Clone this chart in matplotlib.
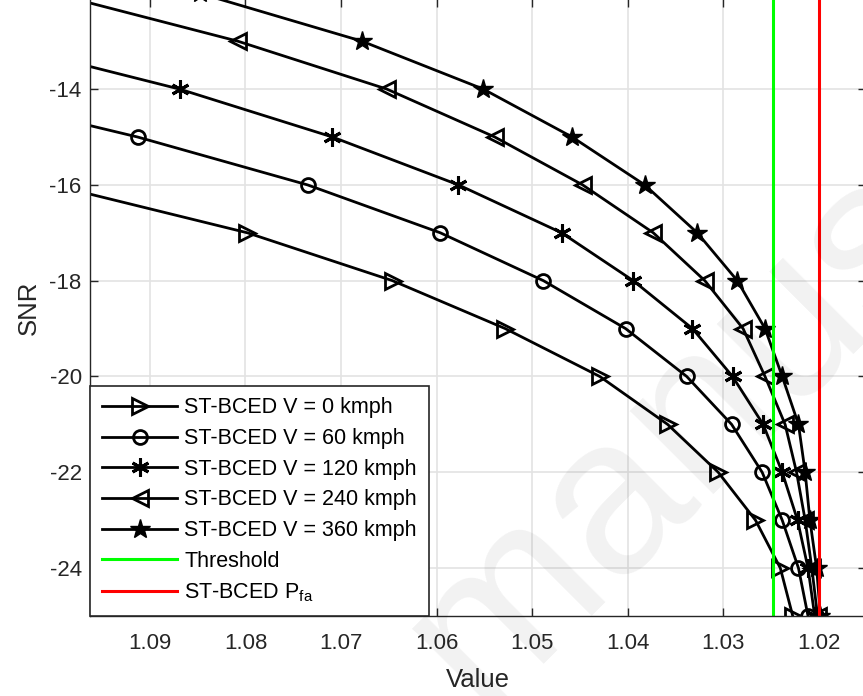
import numpy as np
import matplotlib
matplotlib.use("Agg")
import matplotlib.pyplot as plt

plt.rcParams['font.family'] = ['Liberation Sans', 'DejaVu Sans']
plt.rcParams['axes.unicode_minus'] = False

# SNR levels for each curve and the matching values
snr_v0 = [-16, -17, -18, -19, -20, -21, -22, -23, -24, -25]
val_v0 = [1.1002, 1.0798, 1.0646, 1.0528, 1.0429, 1.0358, 1.0305, 1.0266, 1.0240, 1.0227]

snr_v60 = [-14, -15, -16, -17, -18, -19, -20, -21, -22, -23, -24, -25]
val_v60 = [1.1122, 1.0913, 1.0735, 1.0596, 1.0488, 1.0402, 1.0338, 1.0291, 1.0259, 1.0238, 1.0221, 1.0211]

snr_v120 = [-13, -14, -15, -16, -17, -18, -19, -20, -21, -22, -23, -24, -25]
val_v120 = [1.1068, 1.0869, 1.0709, 1.0577, 1.0469, 1.0394, 1.0332, 1.0290, 1.0258, 1.0238, 1.0222, 1.0211, 1.0204]

snr_v240 = [-12, -13, -14, -15, -16, -17, -18, -19, -20, -21, -22, -23, -24, -25]
val_v240 = [1.1002, 1.0808, 1.0652, 1.0539, 1.0447, 1.0373, 1.0319, 1.0279, 1.0256, 1.0235, 1.0223, 1.0214, 1.0207, 1.0201]

snr_v360 = [-12, -13, -14, -15, -16, -17, -18, -19, -20, -21, -22, -23, -24, -25]
val_v360 = [1.0848, 1.0678, 1.0551, 1.0458, 1.0382, 1.0327, 1.0285, 1.0256, 1.0238, 1.0221, 1.0214, 1.0209, 1.0202, 1.0198]

threshold = 1.0248
pfa = 1.0199

labels = ['ST-BCED V = 0 kmph', 'ST-BCED V = 60 kmph', 'ST-BCED V = 120 kmph',
          'ST-BCED V = 240 kmph', 'ST-BCED V = 360 kmph']
xticks = [1.09, 1.08, 1.07, 1.06, 1.05, 1.04, 1.03, 1.02]
yticks = [-24, -22, -20, -18, -16, -14]

fig = plt.figure(figsize=(8.63, 6.96), dpi=100)
# axes slightly larger than the figure on top/right (cropped like the source)
ax = fig.add_axes([90/863, 80/696, 776/863, 617/696])

dark = '#262626'
ax.plot(val_v0, snr_v0, '-', color='k', lw=2, marker='>', ms=11, mfc='none', mew=2, label=labels[0])
ax.plot(val_v60, snr_v60, '-', color='k', lw=2, marker='o', ms=10, mfc='none', mew=2, label=labels[1])
ax.plot(val_v120, snr_v120, '-', color='k', lw=2, marker=(6, 2, 0), ms=13, mew=2.2, label=labels[2])
ax.plot(val_v240, snr_v240, '-', color='k', lw=2, marker='<', ms=11, mfc='none', mew=2, label=labels[3])
ax.plot(val_v360, snr_v360, '-', color='k', lw=2, marker='*', ms=15, mfc='k', mew=1, label=labels[4])
ax.axvline(threshold, color='#00ff00', lw=2.2, label='Threshold')
ax.axvline(pfa, color='#ff0000', lw=2.2, label='ST-BCED P$_{\\mathregular{fa}}$')

ax.set_xlim(1.09628, 1.01503)
ax.set_ylim(-25, -12.119)
ax.set_xticks(xticks)
ax.set_xticklabels(['%.2f' % t for t in xticks])
ax.set_yticks(yticks)
ax.grid(True, color='#e3e3e3', lw=1.2)
ax.set_axisbelow(True)
ax.tick_params(direction='in', length=6, width=1, colors=dark, labelsize=16,
               top=True, right=True)
ax.tick_params(axis='x', pad=12)
ax.tick_params(axis='y', pad=6)
for s in ['left', 'bottom']:
    ax.spines[s].set_color(dark)
    ax.spines[s].set_linewidth(1)
ax.spines['right'].set_visible(False)
ax.spines['top'].set_visible(False)
ax.set_xlabel('Value', fontsize=18.5, color=dark, labelpad=10)
ax.set_ylabel('SNR', fontsize=18.5, color=dark, labelpad=6)

leg = ax.legend(loc='lower left', fontsize=15.5, frameon=True, fancybox=False,
                edgecolor=dark, framealpha=1, handlelength=3.5, handletextpad=0.33,
                borderaxespad=0, labelspacing=0.45, borderpad=0.55)
leg.get_frame().set_linewidth(1.2)

# faint watermark
fig.text(0.557, -0.023, 'manuscript', fontsize=160, color='#000000', alpha=0.055,
         rotation=45, rotation_mode='anchor', ha='left', va='baseline')

fig.savefig('out.png', dpi=100)
